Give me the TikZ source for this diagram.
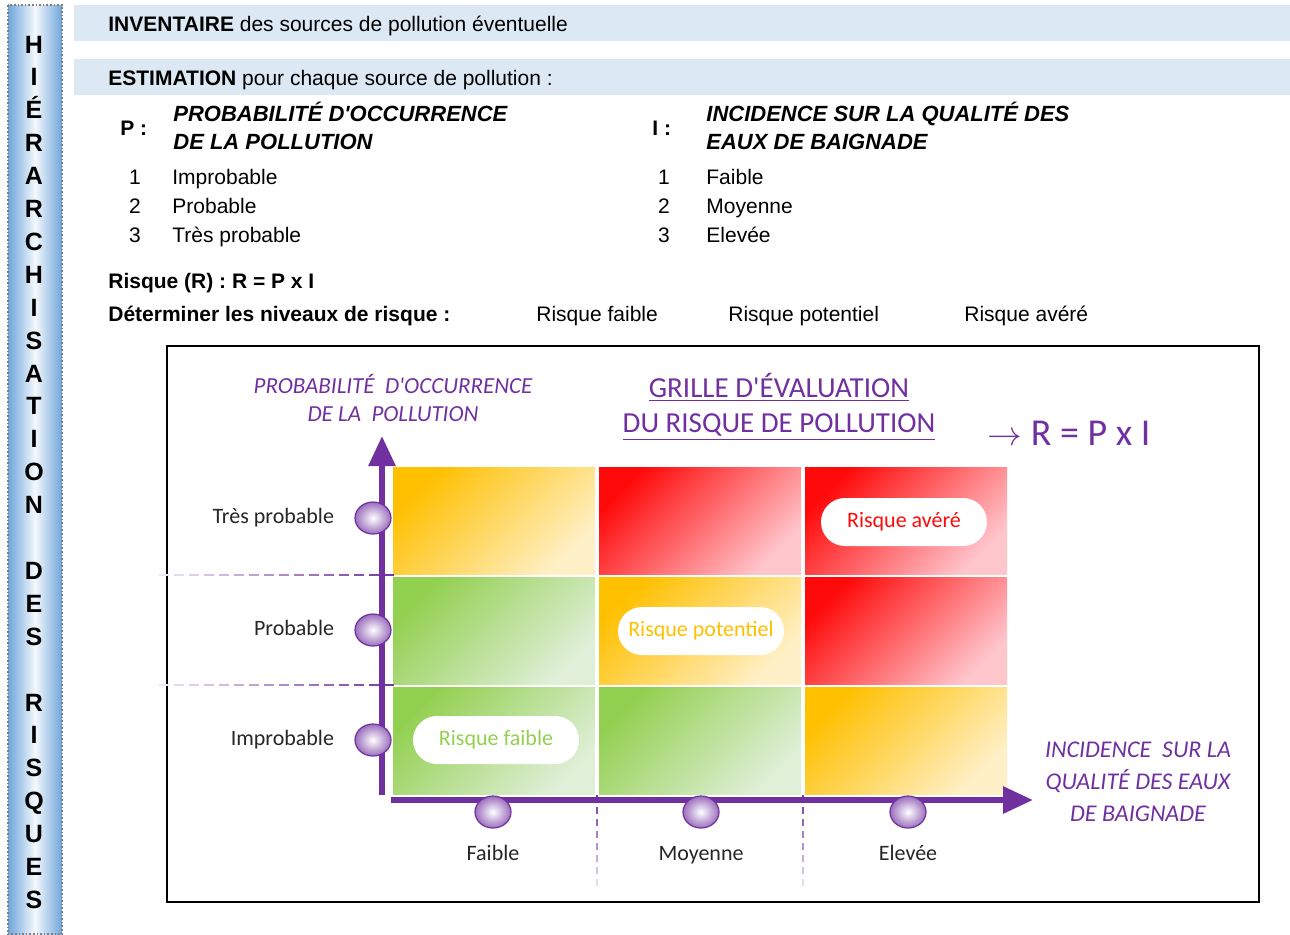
\documentclass[tikz,border=0pt]{standalone}
\usepackage{fontspec}
\setmainfont{Liberation Sans}
\newfontfamily\handfont{Carlito}
\usetikzlibrary{arrows.meta,positioning,shapes.geometric}

\definecolor{bandblue}{HTML}{DCE9F5}
\definecolor{barblue}{HTML}{6FA6DC}
\definecolor{gridpurple}{HTML}{7030A0}
\definecolor{riskred}{HTML}{FF0A0A}
\definecolor{redpale}{HTML}{FFC6CC}
\definecolor{riskyellow}{HTML}{FFC000}
\definecolor{yellowpale}{HTML}{FFF0C8}
\definecolor{riskgreen}{HTML}{92D050}
\definecolor{greenpale}{HTML}{E0EFD8}

\tikzset{
    txt/.style={font=\fontsize{10.5}{12.6}\selectfont, inner sep=0pt, anchor=base west},
    hdr/.style={txt, font=\fontsize{11}{13}\selectfont\bfseries\itshape},
    barletter/.style={font=\fontsize{12.5}{14}\selectfont\bfseries, inner sep=0pt, anchor=base},
    redcell/.style={top color=riskred, bottom color=redpale, shading angle=45},
    yellowcell/.style={top color=riskyellow, bottom color=yellowpale, shading angle=45},
    greencell/.style={top color=riskgreen, bottom color=greenpale, shading angle=45},
    axisline/.style={gridpurple, line width=3pt, -{Triangle[width=13pt,length=15pt]}},
    knob/.style={ellipse, minimum width=18pt, minimum height=16pt, inner sep=0pt,
        draw=gridpurple, line width=0.6pt, shade, inner color=white, outer color=gridpurple!70},
    axlabel/.style={font=\handfont\fontsize{11}{13}\selectfont, inner sep=0pt,
        text height=7.5pt, text depth=2pt, text=black!85},
    purplelabel/.style={font=\handfont\itshape\fontsize{11.5}{13}\selectfont, text=gridpurple, inner sep=0pt},
    pill/.style={fill=white, rounded corners=12pt, minimum width=83pt, minimum height=24pt,
        inner sep=0pt, font=\handfont\fontsize{11}{13}\selectfont}
}

\begin{document}
\begin{tikzpicture}[x=0.5pt, y=-0.5pt]
    \useasboundingbox (0,0) rectangle (1290,934);

    % side bar
    \shade[left color=barblue, right color=barblue, middle color=barblue!8] (8,5) rectangle (62,934);
    \draw[gray, densely dotted, line width=0.8pt] (8,5) rectangle (62,934);
    \foreach \ch [count=\k from 0] in {H,I,É,R,A,R,C,H,I,S,A,T,I,O,N,{},D,E,S,{},R,I,S,Q,U,E,S}
        \node[barletter] (bar\k) at (34,{53+32.9*\k}) {\ch};

    % header bands
    \fill[bandblue] (74,5) rectangle (1290,41);
    \fill[bandblue] (74,59) rectangle (1290,95);
    \node[txt] (inv) at (108,31) {\textbf{INVENTAIRE} des sources de pollution éventuelle};
    \node[txt] (est) at (108,85) {\textbf{ESTIMATION} pour chaque source de pollution :};

    % P and I
    \node[txt, font=\fontsize{10.5}{12.6}\selectfont\bfseries] (plab) at (120,135) {P :};
    \node[hdr] (ptitle1) at (173,121) {PROBABILITÉ D\textquotesingle OCCURRENCE};
    \node[hdr] (ptitle2) at (173,149) {DE LA POLLUTION};
    \foreach \n/\t [count=\k] in {1/Improbable,2/Probable,3/Très probable} {
        \node[txt, anchor=base] (pnum\k) at (135,{155+29*\k}) {\n};
        \node[txt] (ptxt\k) at (172,{155+29*\k}) {\t};
    }
    \node[txt, font=\fontsize{10.5}{12.6}\selectfont\bfseries] (ilab) at (652,135) {I :};
    \node[hdr] (ititle1) at (706,121) {INCIDENCE SUR LA QUALITÉ DES};
    \node[hdr] (ititle2) at (706,149) {EAUX DE BAIGNADE};
    \foreach \n/\t [count=\k] in {1/Faible,2/Moyenne,3/Elevée} {
        \node[txt, anchor=base] (inum\k) at (664,{155+29*\k}) {\n};
        \node[txt] (itxt\k) at (706,{155+29*\k}) {\t};
    }

    \node[txt, font=\fontsize{10.5}{12.6}\selectfont\bfseries] (rform) at (108,288) {Risque (R) : R = P x I};
    \node[txt, font=\fontsize{10.5}{12.6}\selectfont\bfseries] (levels) at (108,321) {Déterminer les niveaux de risque :};
    \node[txt] (lev1) at (536,321) {Risque faible};
    \node[txt] (lev2) at (728,321) {Risque potentiel};
    \node[txt] (lev3) at (964,321) {Risque avéré};

    % grid frame
    \draw[line width=1pt] (167,346) rectangle (1259,902);

    % cells
    \foreach \col/\row/\kind in {0/0/yellowcell,1/0/redcell,2/0/redcell,
                                 0/1/greencell,1/1/yellowcell,2/1/redcell,
                                 0/2/greencell,1/2/greencell,2/2/yellowcell}
        \shade[\kind] ({393+206*\col},{467+110*\row}) rectangle +(202,107);

    % fading dashes
    \foreach \hy in {575,685}
        \foreach \i in {0,...,15} {
            \pgfmathtruncatemacro{\pc}{95-5.5*\i}
            \draw[color=gridpurple!\pc, line width=1.4pt] ({394-15*\i},\hy) -- ({384-15*\i},\hy);
        }
    \foreach \vx in {597,803}
        \foreach \i in {0,...,7} {
            \pgfmathtruncatemacro{\pc}{95-11*\i}
            \draw[color=gridpurple!\pc, line width=1.4pt] (\vx,{795+12*\i}) -- (\vx,{802+12*\i});
        }

    % axes
    \coordinate (ybase) at (382,795);
    \coordinate (ytop) at (382,436);
    \coordinate (xbase) at (391,800);
    \coordinate (xtop) at (1033,800);
    \draw[axisline] (ybase) -- (ytop);
    \draw[axisline] (xbase) -- (xtop);

    % knobs and labels
    \node[knob] (kp3) at (373,518) {};
    \node[knob] (kp2) at (373,630) {};
    \node[knob] (kp1) at (373,740) {};
    \node[axlabel, left=10pt of kp3] (lp3) {Très probable};
    \node[axlabel, left=10pt of kp2] (lp2) {Probable};
    \node[axlabel, left=10pt of kp1] (lp1) {Improbable};
    \node[knob] (ki1) at (493,812) {};
    \node[knob] (ki2) at (701,812) {};
    \node[knob] (ki3) at (908,812) {};
    \node[axlabel, below=8pt of ki1] (li1) {Faible};
    \node[axlabel, below=8pt of ki2] (li2) {Moyenne};
    \node[axlabel, below=8pt of ki3] (li3) {Elevée};

    % risk pills
    \node[pill, text=riskred] (avere) at (904,522) {Risque avéré};
    \node[pill, text=riskyellow] (potentiel) at (701,631) {Risque potentiel};
    \node[pill, text=riskgreen] (faible) at (496,740) {Risque faible};

    % titles
    \node[purplelabel] (ytitle1) at (393,384) {PROBABILITÉ\ \ D\textquotesingle OCCURRENCE};
    \node[purplelabel] (ytitle2) at (393,414) {DE\ LA\ \ POLLUTION};
    \node[purplelabel, font=\handfont\fontsize{14.5}{16}\selectfont] (grille1) at (779,387) {\underline{GRILLE D\textquotesingle ÉVALUATION}};
    \node[purplelabel, font=\handfont\fontsize{14.5}{16}\selectfont] (grille2) at (779,427) {\underline{DU RISQUE DE POLLUTION}};
    \node[purplelabel, font=\handfont\fontsize{19}{21}\selectfont] (formula) at (1069,433) {$\rightarrow$ R = P x I};
    \node[purplelabel, align=center, font=\handfont\itshape\fontsize{12}{16}\selectfont] (xtitle) at (1138,782)
        {INCIDENCE\ \ SUR LA\\QUALITÉ DES EAUX\\DE BAIGNADE};
\end{tikzpicture}
\end{document}
